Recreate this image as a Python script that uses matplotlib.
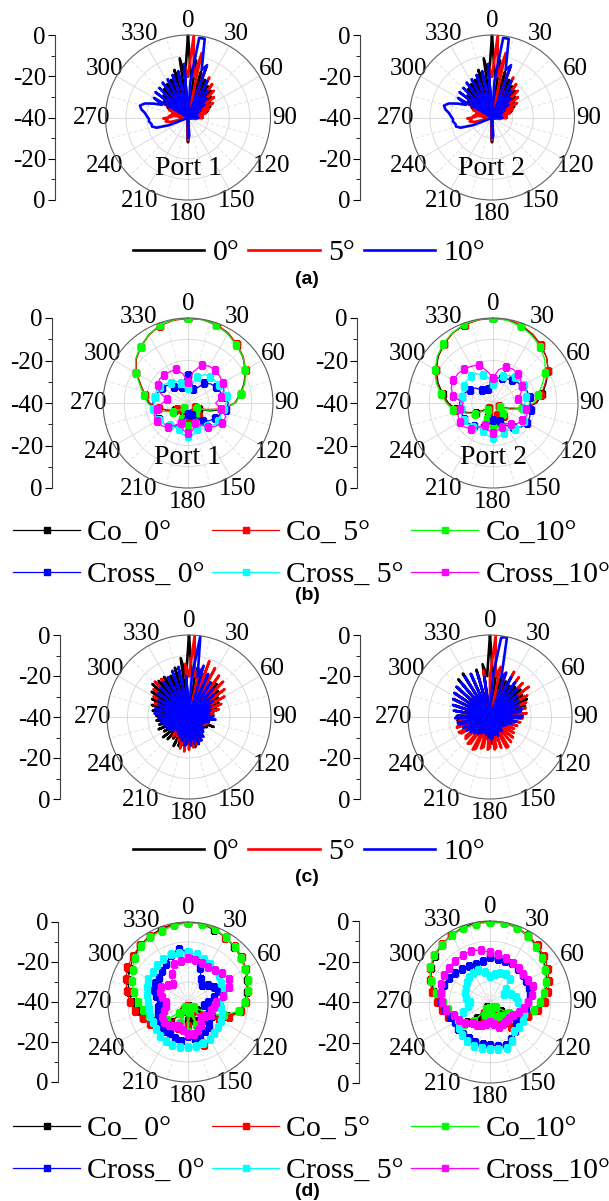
import matplotlib.pyplot as plt
import numpy as np
from matplotlib.lines import Line2D

plt.rcParams['font.family'] = ['Liberation Serif', 'DejaVu Serif']

W, H = 609, 1201

# angle grids in degrees
ang4 = np.arange(0, 360, 4)
ang10 = np.arange(0, 360, 10)

theta_ticks = np.arange(0, 360, 30)
theta_labels = ['0', '30', '60', '90', '120', '150', '180', '210', '240', '270', '300', '330']
db_pos = [40, 20, 0, -20, -40]
db_labels = ['0', '-20', '-40', '-20', '0']

scan_labels = ['0°', '5°', '10°']
cp_labels = ['Co_ 0°', 'Cross_ 0°', 'Co_ 5°', 'Cross_ 5°', 'Co_10°', 'Cross_10°']

# (a) radiation pattern, dB on 4 deg steps (same for both ports)
a_0 = [0, -20, -12, -39, -17, -40, -20, -39, -22, -40,
       -23, -39, -25, -40, -27, -39, -28, -40, -30, -39,
       -33, -40, -36, -40, -37, -40, -38, -40, -40, -40,
       -40, -40, -40, -40, -40, -40, -40, -40, -40, -40,
       -40, -40, -40, -40, -36, -28, -36, -40, -40, -40,
       -40, -40, -40, -40, -40, -40, -40, -40, -40, -40,
       -40, -40, -40, -40, -40, -40, -38, -40, -36, -40,
       -34, -40, -32, -39, -29, -40, -26, -39, -24, -40,
       -22, -39, -21, -40, -20, -39, -16, -40, -11, -20]
a_5 = [-20, 0, -20, -8, -40, -14, -39, -18, -40, -20,
       -39, -22, -40, -24, -39, -26, -40, -29, -39, -31,
       -40, -33, -40, -33, -40, -36, -40, -40, -40, -40,
       -40, -40, -40, -40, -40, -40, -40, -40, -40, -40,
       -40, -40, -40, -40, -35, -29, -35, -40, -40, -40,
       -40, -40, -40, -40, -40, -40, -40, -40, -40, -40,
       -40, -40, -40, -38, -31, -29, -30, -28, -32, -31,
       -39, -32, -40, -30, -39, -27, -40, -26, -39, -24,
       -40, -23, -39, -22, -40, -20, -39, -18, -40, -14]
a_10 = [-40, -22, -1, -1, -16, -13, -40, -20, -39, -24,
        -40, -27, -39, -30, -40, -33, -39, -35, -40, -38,
        -40, -36, -40, -35, -40, -40, -40, -40, -40, -40,
        -40, -40, -40, -40, -40, -40, -40, -40, -40, -40,
        -40, -40, -40, -40, -31, -30, -38, -40, -40, -40,
        -40, -40, -40, -40, -40, -40, -40, -40, -40, -40,
        -40, -38, -30, -24, -22, -22, -21, -21, -20, -19,
        -17, -16, -18, -22, -26, -21, -39, -20, -40, -20,
        -39, -19, -40, -19, -39, -18, -40, -17, -39, -14]

# (b) co / cross polar patterns, dB on 10 deg steps
b1_co0 = [0, -0.2, -0.9, -2.4, -4.4, -6.3, -8.9, -11.9, -14.8, -18,
          -23, -29, -34, -37, -35, -33, -32, -31, -30, -31,
          -33, -35, -37, -36, -33, -30, -25, -21.5, -19.5, -16.5,
          -12, -8, -5.3, -3, -1.1, -0.3]
b1_co5 = [-0.2, 0, -0.6, -2, -4, -6, -8.6, -11.6, -14.6, -18,
          -24, -31, -36, -34, -32, -33, -35, -33, -31, -33,
          -35, -34, -36, -38, -34, -30, -26, -22, -19.5, -16.5,
          -12, -8.2, -5.5, -3.2, -1.3, -0.5]
b1_co10 = [0, -0.2, -0.9, -2.5, -4.5, -6.2, -8.8, -11.5, -14.5, -17.6,
           -24, -30, -35, -37, -34, -32, -31, -30, -29, -30,
           -32, -35, -37, -35, -32, -28, -24, -21, -19, -16,
           -11.5, -7.8, -5.3, -3, -1.1, -0.3]
b1_x0 = [-27, -30, -33, -32, -28, -26, -25, -24, -23, -21,
         -22, -24, -25.5, -27, -29, -32, -34, -36, -35, -33,
         -30, -27, -26, -25, -24.5, -24, -24, -23.5, -24, -25,
         -26, -27, -30, -33, -32, -29]
b1_x5 = [-33, -31, -27, -24.5, -24, -23.5, -23, -22, -21.5, -22,
         -23, -23.5, -23.5, -24, -26, -28, -27, -25, -24.3, -25,
         -27, -27, -26.5, -25, -24, -23.5, -23.5, -24, -24, -24,
         -25, -26, -27.5, -28, -30, -33]
b1_x10 = [-30, -25, -21, -20, -20, -20.5, -21, -22, -24, -27,
          -24, -21, -21.5, -23, -25, -28, -30, -27, -26, -27,
          -30, -28, -25, -23.5, -23, -23, -25, -28, -30, -26,
          -23.5, -22.5, -22.5, -23, -23, -26]

b2_co0 = [0, -0.3, -1.2, -2.8, -4.7, -7, -10, -13.5, -16.5, -19.5,
          -25, -32, -37, -36, -34, -33, -32, -31, -30, -31,
          -33, -35, -37, -35, -31, -27, -22.5, -19, -16, -12.5,
          -9.2, -6.3, -4, -2, -0.7, -0.2]
b2_co5 = [-0.1, 0, -1, -2.6, -4.6, -7, -10, -14, -17, -20,
          -26, -33, -37, -34, -32, -33, -34, -32, -31, -32,
          -34, -36, -37, -34, -30, -26.5, -22, -18.5, -15.5, -12,
          -9, -6, -3.8, -2, -0.8, -0.3]
b2_co10 = [0, -0.5, -1.6, -3.4, -5.5, -8.2, -11.5, -15.5, -18.5, -21,
           -26, -31, -36, -35, -33, -31, -30, -29, -29, -30,
           -32, -34, -36, -34, -30, -26, -21, -18, -15, -11.5,
           -8.5, -5.8, -3.6, -1.8, -0.5, -0.1]
b2_x0 = [-29, -28, -27.5, -27, -26, -25, -24, -23, -22.5, -22.5,
         -22, -21.5, -21.5, -22.5, -25, -28, -31, -33, -32, -30,
         -28, -27, -26, -25, -24.5, -24.5, -24.5, -24.3, -25, -26,
         -27.5, -29, -32, -34, -33, -31]
b2_x5 = [-31, -29, -26.5, -25, -24, -23.5, -23, -23.5, -24, -25,
         -25, -24, -23, -23, -24, -26, -25, -24, -23.5, -24.5,
         -26, -27, -25.5, -24.5, -24, -24, -24.5, -25, -25, -24.5,
         -24, -23.8, -23.7, -24, -26, -28]
b2_x10 = [-28, -24, -22, -21.5, -22, -23, -24, -26, -28, -27,
          -24, -23, -24, -25, -27, -29, -28, -27, -26, -27,
          -29, -27, -24, -22.5, -22, -22.5, -24, -26, -21, -19,
          -18.5, -18.5, -19, -20, -21, -25]

# (c) radiation pattern, dB on 4 deg steps
c1_0 = [0, -20, -16, -38, -18, -39, -20, -38, -21, -39,
        -19, -38, -21, -39, -23, -38, -24, -39, -26, -38,
        -28, -39, -31, -40, -34, -40, -31, -39, -27, -39,
        -30, -40, -33, -40, -34, -40, -31, -39, -29, -38,
        -26, -38, -25, -39, -28, -37, -27, -38, -26, -38,
        -25, -39, -24, -38, -27, -39, -25, -38, -24, -39,
        -26, -39, -24, -38, -25, -39, -24, -38, -24, -39,
        -22, -38, -21, -39, -20, -38, -18, -39, -16, -38,
        -17, -39, -17, -38, -18, -39, -15, -38, -11, -20]
c1_5 = [-20, 0, -20, -16, -39, -11, -38, -13, -39, -15,
        -38, -16, -39, -18, -38, -20, -39, -23, -38, -25,
        -39, -28, -40, -31, -40, -33, -40, -30, -39, -31,
        -40, -33, -40, -32, -40, -30, -39, -29, -38, -27,
        -38, -26, -39, -25, -38, -24, -39, -23, -38, -24,
        -39, -27, -38, -29, -39, -28, -38, -30, -39, -29,
        -38, -31, -39, -30, -38, -28, -39, -27, -38, -26,
        -39, -24, -38, -22, -39, -20, -38, -18, -39, -16,
        -38, -17, -39, -19, -38, -21, -39, -18, -38, -14]
c1_10 = [-38, -20, 0, -20, -14, -39, -17, -38, -20, -39,
         -22, -38, -24, -39, -26, -38, -28, -39, -29, -38,
         -30, -39, -28, -38, -27, -39, -30, -38, -32, -39,
         -33, -38, -31, -39, -30, -38, -28, -39, -27, -38,
         -26, -39, -27, -38, -26, -39, -27, -26, -38, -28,
         -39, -29, -38, -30, -39, -31, -38, -30, -39, -29,
         -38, -28, -39, -27, -38, -26, -39, -25, -38, -23,
         -39, -23, -38, -24, -39, -23, -38, -21, -39, -20,
         -38, -19, -39, -18, -38, -16, -39, -15, -38, -20]
c2_0 = [0, -20, -18, -39, -20, -38, -21, -39, -22, -38,
        -21, -39, -20, -38, -21, -39, -20, -38, -22, -39,
        -25, -38, -28, -39, -30, -38, -31, -39, -30, -38,
        -32, -39, -31, -38, -32, -39, -30, -38, -31, -39,
        -29, -38, -28, -39, -27, -38, -28, -39, -29, -38,
        -30, -39, -29, -38, -30, -39, -29, -38, -28, -39,
        -27, -38, -26, -39, -25, -38, -24, -39, -24, -38,
        -23, -39, -22, -38, -20, -39, -19, -38, -18, -39,
        -16, -38, -15, -39, -17, -38, -16, -39, -14, -20]
c2_5 = [-20, 0, -20, -15, -39, -17, -38, -15, -39, -16,
        -38, -17, -39, -16, -38, -19, -39, -21, -38, -22,
        -39, -22, -38, -24, -39, -25, -38, -26, -39, -27,
        -38, -26, -39, -25, -38, -24, -39, -23, -23, -38,
        -24, -39, -25, -24, -38, -25, -24, -39, -25, -24,
        -38, -23, -22, -39, -24, -23, -38, -24, -25, -39,
        -24, -23, -38, -23, -24, -39, -25, -38, -26, -39,
        -27, -38, -24, -39, -22, -38, -21, -39, -20, -38,
        -22, -39, -21, -38, -20, -39, -19, -38, -17, -39]
c2_10 = [-38, -20, -1, 0, -20, -17, -39, -18, -38, -19,
         -39, -21, -38, -23, -39, -24, -38, -25, -39, -24,
         -25, -38, -24, -25, -39, -27, -38, -29, -39, -31,
         -38, -32, -39, -33, -38, -31, -39, -32, -38, -30,
         -39, -31, -38, -30, -29, -38, -30, -39, -31, -38,
         -32, -39, -31, -38, -30, -39, -29, -38, -28, -39,
         -27, -38, -26, -39, -25, -24, -38, -23, -24, -39,
         -22, -38, -21, -39, -20, -38, -19, -39, -18, -38,
         -18, -39, -17, -38, -17, -39, -18, -38, -20, -39]

# (d) co / cross polar patterns, dB on 10 deg steps
d1_co0 = [0, -0.5, -1.5, -2.5, -4, -5.5, -7, -8.5, -10, -11.5,
          -14, -19, -26, -34, -28, -36, -30, -38, -31, -37,
          -29, -35, -27, -24, -19, -16, -14, -12, -10, -8,
          -6.5, -4.5, -3, -1.8, -1, -0.3]
d1_co5 = [-0.3, 0, -1, -2.8, -3.5, -5, -6.5, -8, -9.5, -11,
          -13, -18, -22, -30, -20, -35, -17, -36, -28, -38,
          -26, -36, -25, -22, -18, -16, -13, -11, -9, -7,
          -5, -4, -3, -2, -1.5, -0.5]
d1_co10 = [-0.5, -0.3, -1.2, -2.3, -3.8, -5.5, -7, -8, -9.5, -11.5,
           -14, -21, -28, -36, -30, -37, -28, -35, -25, -36,
           -29, -37, -33, -26, -22, -19, -17, -15, -12.5, -10,
           -8, -5.5, -3.5, -2.5, -2, -1]
d1_x0 = [-15, -18, -22, -27, -29, -27, -25, -24, -27, -30,
         -32, -29, -27, -26, -24, -23, -22, -21, -23, -20,
         -21, -22, -21, -21, -22, -24, -25, -26, -24, -22,
         -21, -21, -20, -18, -15, -13]
d1_x5 = [-15, -15.5, -17, -18, -19, -20, -21, -21, -22, -24,
         -23, -22, -21, -20.5, -19.5, -18.5, -18, -17.5, -17.5, -17,
         -17, -17.5, -18, -19, -20, -20, -20, -20, -19, -18,
         -17, -17, -16, -15, -14.7, -15]
d1_x10 = [-18, -18.5, -19.5, -20, -19, -17.5, -16.5, -18, -22, -26,
          -27, -28, -27, -29, -30, -27, -25, -24, -24, -26,
          -27, -26, -25, -24.5, -25, -27, -29, -29, -27, -25,
          -24.7, -27, -28, -24, -20, -19]

d2_co0 = [0, -0.3, -1, -2.5, -4, -6, -8, -10, -12, -14,
          -17, -20, -25, -33, -27, -36, -29, -37, -30, -36,
          -31, -37, -30, -25, -21, -19, -17, -15, -12, -9,
          -6.5, -4.5, -3, -1.8, -0.8, -0.2]
d2_co5 = [-0.4, 0, -0.8, -2, -3.5, -5, -7, -9, -11, -13,
          -16, -20, -27, -31, -24, -34, -28, -36, -30, -37,
          -31, -34, -28, -24, -21, -18, -16, -14, -11, -8.5,
          -6, -4, -2.8, -1.8, -1.2, -0.6]
d2_co10 = [-0.6, -0.4, -0.9, -2.5, -4.5, -6.5, -8.5, -10.5, -13, -15.5,
           -18, -22, -29, -36, -31, -37, -32, -36, -31, -37,
           -33, -36, -28, -23, -21, -21, -19, -17, -13, -9,
           -5.7, -4, -3, -2, -1.2, -0.8]
d2_x0 = [-18, -18.5, -18.5, -18, -18.5, -19, -19.5, -19.5, -20, -21,
         -22, -23, -24, -23, -21, -19, -17.5, -18, -19, -18.8,
         -19, -19.5, -19.5, -19.6, -20, -19, -17.5, -16, -15.6, -15.8,
         -16.5, -17.5, -18.5, -19.5, -20, -19.5]
d2_x5 = [-27, -26, -25, -24, -25, -30, -32, -29, -27, -26,
         -24, -22, -21, -21, -21.4, -18, -15.7, -16.5, -17, -17,
         -16.8, -17.5, -18.6, -20, -22, -26, -29, -30, -28, -27,
         -26.4, -25, -24, -23.5, -23, -25]
d2_x10 = [-15.5, -16, -16.8, -17.5, -18, -18.5, -18.5, -17.5, -19, -21,
          -23, -25, -27, -28, -28, -27.5, -27, -29, -30, -29,
          -28, -27, -26.6, -24, -22.5, -21, -18, -16.5, -15.5, -14.5,
          -13.7, -13.5, -13.3, -13, -13, -14]

scan_colors = ['black', '#ff0000', '#0000ff']
co_colors = ['black', '#ff0000', '#00ff00']
cross_colors = ['#0000ff', '#00ffff', '#ff00ff']

fig = plt.figure(figsize=(W / 100, H / 100), dpi=100)


def closed(ang, vals):
    return np.deg2rad(np.append(ang, 360)), np.append(vals, vals[0])


def polar_ax(cx, cy, R):
    ax = fig.add_axes([(cx - R) / W, 1 - (cy + R) / H, 2 * R / W, 2 * R / H],
                      projection='polar')
    ax.set_theta_zero_location('N')
    ax.set_theta_direction(-1)
    ax.set_rlim(-40, 0)
    ax.set_rticks([-30, -20, -10])
    ax.set_yticklabels([])
    ax.set_thetagrids(theta_ticks, labels=theta_labels, fontsize=18)
    ax.set_xticks(np.deg2rad(np.arange(15, 360, 30)), minor=True)
    ax.grid(True, which='major', color='#d6d6d6', lw=0.6)
    ax.grid(True, which='minor', axis='x', color='#dedede', lw=0.6, ls=(0, (4, 3)))
    ax.tick_params(axis='x', which='both', length=0, pad=3)
    ax.spines['polar'].set_color('#606060')
    ax.spines['polar'].set_linewidth(0.8)
    return ax


def db_axis(x, cy, R):
    lax = fig.add_axes([x / W, 1 - (cy + R) / H, 0.002, 2 * R / H])
    lax.set_ylim(-40, 40)
    lax.set_yticks(db_pos)
    lax.set_yticklabels(db_labels)
    lax.set_yticks([-30, -10, 10, 30], minor=True)
    lax.set_xticks([])
    for s in ('top', 'right', 'bottom'):
        lax.spines[s].set_visible(False)
    lax.spines['left'].set_color('#404040')
    lax.spines['left'].set_linewidth(0.8)
    lax.tick_params(axis='y', which='major', length=5, width=0.8, labelsize=18, pad=1.5)
    lax.tick_params(axis='y', which='minor', length=3, width=0.6)
    lax.patch.set_visible(False)


def scan_panel(cx, cy, R, axis_x, curves, port=None):
    ax = polar_ax(cx, cy, R)
    db_axis(axis_x, cy, R)
    for vals, c in zip(curves, scan_colors):
        th, r = closed(ang4, vals)
        ax.plot(th, r, color=c, lw=1.9, solid_joinstyle='round')
    if port:
        ax.text(0.5, 0.19, port, transform=ax.transAxes, ha='center', va='center', fontsize=20)


def cp_panel(cx, cy, R, axis_x, co, cross, every, port=None):
    ax = polar_ax(cx, cy, R)
    db_axis(axis_x, cy, R)
    for vals, c in zip(co, co_colors):
        th, r = closed(ang10, vals)
        ax.plot(th, r, color=c, lw=0.9, marker='s', ms=5, markevery=every)
    for vals, c in zip(cross, cross_colors):
        th, r = closed(ang10, vals)
        ax.plot(th, r, color=c, lw=0.9, marker='s', ms=5, markevery=every)
    if port:
        ax.text(0.5, 0.18, port, transform=ax.transAxes, ha='center', va='center', fontsize=20)


def scan_legend(y):
    handles = [Line2D([], [], color=c, lw=1.9) for c in scan_colors]
    fig.legend(handles, scan_labels, loc='center', bbox_to_anchor=(309 / W, 1 - y / H),
               ncol=3, frameon=False, fontsize=21.5, handlelength=2.4,
               handletextpad=0.27, columnspacing=0.3, borderpad=0, borderaxespad=0)


def cp_legend(y):
    cols = [co_colors[0], cross_colors[0], co_colors[1], cross_colors[1],
            co_colors[2], cross_colors[2]]
    handles = [Line2D([], [], color=c, lw=0.9, marker='s', ms=5) for c in cols]
    fig.legend(handles, cp_labels, loc='center left', bbox_to_anchor=(13 / W, 1 - y / H),
               ncol=3, frameon=False, fontsize=21.5, handlelength=2.25,
               handletextpad=0.23, columnspacing=0.25, labelspacing=0.5,
               borderpad=0, borderaxespad=0)


def caption(text, y):
    fig.text(307 / W, 1 - y / H, text, ha='center', va='center',
             family='Liberation Sans', weight='bold', fontsize=14)


# (a)
scan_panel(188, 117.5, 82.5, 55, [a_0, a_5, a_10], 'Port 1')
scan_panel(492, 117.5, 82.5, 360, [a_0, a_5, a_10], 'Port 2')
scan_legend(253)
caption('(a)', 280)

# (b)
cp_panel(188, 403, 85, 52, [b1_co0, b1_co5, b1_co10], [b1_x0, b1_x5, b1_x10], 2, 'Port 1')
cp_panel(493, 403, 85, 357, [b2_co0, b2_co5, b2_co10], [b2_x0, b2_x5, b2_x10], 2, 'Port 2')
cp_legend(554)
caption('(b)', 596)

# (c)
scan_panel(189, 717, 82, 60, [c1_0, c1_5, c1_10])
scan_panel(490, 717, 82, 360, [c2_0, c2_5, c2_10])
scan_legend(852)
caption('(c)', 878)

# (d)
cp_panel(188, 1002, 80, 58, [d1_co0, d1_co5, d1_co10], [d1_x0, d1_x5, d1_x10], 1)
cp_panel(490, 1002, 81, 359, [d2_co0, d2_co5, d2_co10], [d2_x0, d2_x5, d2_x10], 1)
cp_legend(1150)
caption('(d)', 1192)

fig.savefig('out.png', dpi=100)
